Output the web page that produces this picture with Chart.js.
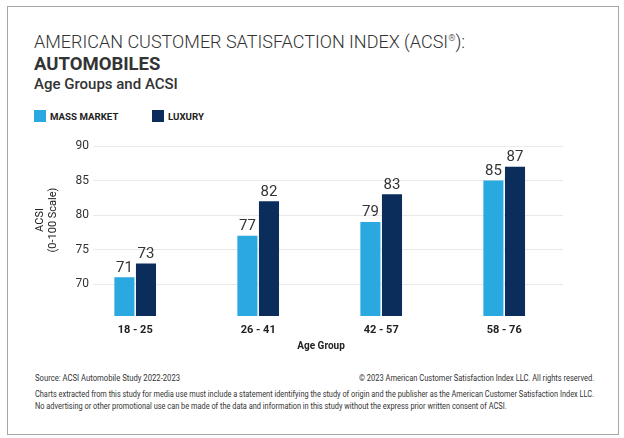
<!DOCTYPE html>
<html>
<head>
  <meta charset="utf-8">
  <title>ACSI Automobiles - Age Groups and ACSI</title>
  <script src="https://cdn.jsdelivr.net/npm/chart.js@4.4.0/dist/chart.umd.min.js"></script>
  <style>
    body {
      margin: 0;
      width: 624px;
      height: 438px;
      background: #fff;
      font-family: 'Roboto', 'Liberation Sans', sans-serif;
      position: relative;
      overflow: hidden;
    }
    .frame {
      position: absolute;
      left: 7px;
      top: 6px;
      width: 610px;
      height: 427px;
      border: 1px solid #a6a6a6;
    }
    .t1 {
      position: absolute;
      left: 34px;
      top: 31px;
      font-size: 18px;
      font-weight: 300;
      color: #333;
      white-space: nowrap;
    }
    .t1 sup { font-size: 9px; }
    .t2 {
      position: absolute;
      left: 34px;
      top: 53px;
      font-size: 18.5px;
      font-weight: 700;
      color: #333;
    }
    .t3 {
      position: absolute;
      left: 34px;
      top: 75px;
      font-size: 15px;
      font-weight: 500;
      color: #333;
    }
    .legend {
      position: absolute;
      top: 110px;
      font-size: 9.7px;
      font-weight: 700;
      color: #222;
      display: flex;
      align-items: center;
    }
    .legend span.box {
      display: inline-block;
      width: 12px;
      height: 12px;
      margin-right: 4px;
    }
    .foot {
      position: absolute;
      font-size: 9px;
      line-height: 11px;
      color: #333;
      white-space: nowrap;
    }
    #wrap {
      position: absolute;
      left: 0;
      top: 130px;
      width: 624px;
      height: 230px;
    }
  </style>
</head>
<body>
  <div class="frame"></div>
  <div class="t1">AMERICAN CUSTOMER SATISFACTION INDEX (ACSI<sup>®</sup>):</div>
  <div class="t2">AUTOMOBILES</div>
  <div class="t3">Age Groups and ACSI</div>
  <div class="legend" style="left:34px"><span class="box" style="background:#2aa9e0"></span>MASS MARKET</div>
  <div class="legend" style="left:152px"><span class="box" style="background:#0a2d5c"></span>LUXURY</div>

  <div id="wrap"><canvas id="myChart"></canvas></div>

  <div class="foot" data-w="145" style="left:35px; top:373px">Source: ACSI Automobile Study 2022-2023</div>
  <div class="foot" data-w="235" data-right="1" style="right:30px; top:373px">© 2023 American Customer Satisfaction Index LLC. All rights reserved.</div>
  <div class="foot" data-w="559" style="left:35px; top:389px">Charts extracted from this study for media use must include a statement identifying the study of origin and the publisher as the American Customer Satisfaction Index LLC.</div>
  <div class="foot" data-w="472" style="left:35px; top:401px">No advertising or other promotional use can be made of the data and information in this study without the express prior written consent of ACSI.</div>

  <script>
    // 데이터
    const ageGroups = ['18 - 25', '26 - 41', '42 - 57', '58 - 76'];
    const massMarket = [71, 77, 79, 85];
    const luxury = [73, 82, 83, 87];
    const yTicks = [70, 75, 80, 85, 90];

    // 좁은 글꼴 대신 가로 폭 맞추기
    document.querySelectorAll('.foot').forEach(el => {
      const s = el.dataset.w / el.scrollWidth;
      el.style.transformOrigin = el.dataset.right ? 'right top' : 'left top';
      el.style.transform = 'scaleX(' + s + ')';
    });

    // x 위치는 카테고리 인덱스 (linear 축)
    const toPoints = arr => arr.map((v, i) => ({ x: i, y: v }));

    // 막대 위 값 표시
    const valueLabels = {
      id: 'valueLabels',
      afterDatasetsDraw(chart) {
        const ctx = chart.ctx;
        ctx.save();
        ctx.font = '15px Roboto';
        ctx.fillStyle = '#333';
        ctx.textAlign = 'center';
        ctx.textBaseline = 'bottom';
        chart.data.datasets.forEach((ds, di) => {
          chart.getDatasetMeta(di).data.forEach((bar, i) => {
            ctx.fillText(ds.data[i].y, bar.x, bar.y - 2);
          });
        });
        ctx.restore();
      }
    };

    // 축 제목
    const axisTitles = {
      id: 'axisTitles',
      afterDraw(chart) {
        const ctx = chart.ctx;
        const area = chart.chartArea;
        ctx.save();
        ctx.fillStyle = '#222';
        ctx.textAlign = 'center';
        ctx.textBaseline = 'middle';
        ctx.font = 'bold 10px Roboto';
        ctx.fillText('Age Group', 321, area.bottom + 30);
        ctx.translate(46, 90);
        ctx.rotate(-Math.PI / 2);
        ctx.font = '11px Roboto';
        ctx.fillText('ACSI', 0, -6);
        ctx.fillText('(0-100 Scale)', 0, 7);
        ctx.restore();
      }
    };

    const ctx = document.getElementById('myChart').getContext('2d');
    const myChart = new Chart(ctx, {
      type: 'bar',
      data: {
        datasets: [
          {
            label: 'MASS MARKET',
            data: toPoints(massMarket),
            backgroundColor: '#2aa9e0',
            categoryPercentage: 0.351,
            barPercentage: 0.93
          },
          {
            label: 'LUXURY',
            data: toPoints(luxury),
            backgroundColor: '#0a2d5c',
            categoryPercentage: 0.351,
            barPercentage: 0.93
          }
        ]
      },
      options: {
        responsive: true,
        maintainAspectRatio: false,
        animation: false,
        layout: {
          padding: { left: 0, right: 61, top: 16, bottom: 0 }
        },
        plugins: {
          legend: { display: false },
          tooltip: { enabled: false }
        },
        scales: {
          x: {
            type: 'linear',
            offset: false,
            min: -0.343,
            max: 3.478,
            grid: { display: false, drawTicks: false },
            border: { display: false },
            afterFit(scale) { scale.height = 44; },
            afterBuildTicks(scale) {
              scale.ticks = ageGroups.map((_, i) => ({ value: i }));
            },
            ticks: {
              padding: 8,
              color: '#222',
              font: { family: 'Roboto', size: 11, weight: 'bold' },
              callback: v => ageGroups[v]
            }
          },
          y: {
            min: 65.4,
            max: 90,
            afterFit(scale) { scale.width = 93; },
            afterBuildTicks(scale) {
              scale.ticks = yTicks.map(v => ({ value: v }));
            },
            grid: { color: '#e9e9e9', drawTicks: false },
            border: { display: false },
            ticks: {
              padding: 4,
              color: '#333',
              font: { family: 'Roboto', size: 12 }
            }
          }
        }
      },
      plugins: [valueLabels, axisTitles]
    });
  </script>
</body>
</html>
